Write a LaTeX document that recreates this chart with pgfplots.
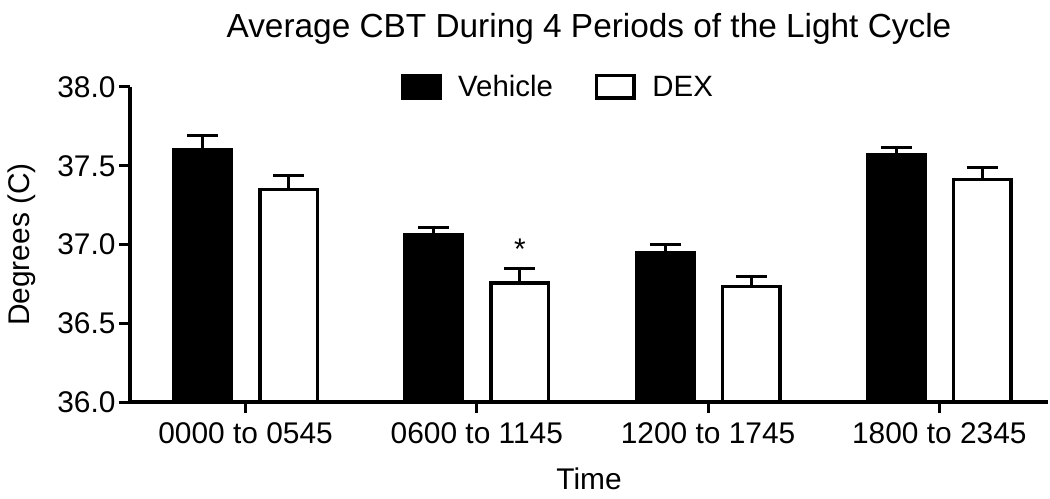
\documentclass[border=0pt]{standalone}
\usepackage{pgfplots}
\pgfplotsset{compat=1.18}
\usepackage{fontspec}
\setmainfont{Liberation Sans}
\newcommand\bigf{\fontsize{30}{33}\selectfont}
\begin{document}
\begin{tikzpicture}
\useasboundingbox (-130bp,-97bp) rectangle (920bp,402bp);
\begin{axis}[
  scale only axis, width=918bp, height=315bp,
  xmin=-0.5, xmax=3.47, ymin=36, ymax=38,
  axis lines*=left,
  axis line style={line width=4bp, -},
  every tick/.style={line width=3bp, black},
  tick align=outside, major tick length=11bp,
  xtick={0,1,2,3},
  xticklabels={0000 to 0545, 0600 to 1145, 1200 to 1745, 1800 to 2345},
  ytick={36,36.5,37,37.5,38},
  yticklabel style={/pgf/number format/.cd, fixed, fixed zerofill, precision=1},
  /pgf/number format/assume math mode=true,
  tick label style={font=\bigf},
  xticklabel style={anchor=base, yshift=-30bp},
  xlabel={Time}, ylabel={Degrees (C)},
  label style={font=\bigf},
  xlabel style={at={(axis description cs:0.5,-0.279)}, anchor=base},
  ylabel style={at={(axis description cs:-0.1176,0.5)}, anchor=center},
  title={Average CBT During 4 Periods of the Light Cycle},
  title style={font=\fontsize{33.5}{36}\selectfont, at={(axis description cs:0.5,1.137)}, anchor=base},
  legend style={draw=none, fill=none, font=\fontsize{29.5}{32}\selectfont, legend columns=2,
    at={(axis description cs:0.466,1)}, anchor=center,
    /tikz/every even column/.append style={column sep=40bp}},
  clip=true,
]
\addplot[ybar, bar width=57.5bp, bar shift=0pt, fill=black, draw=black, line width=3.5bp,
  legend image code/.code={\draw[fill=black, draw=black, line width=3.5bp] (0bp,-11.25bp) rectangle (37.5bp,11.25bp); \path (52bp,0bp);},
  error bars/.cd, y dir=plus, y explicit,
  error bar style={line width=3bp, black}, error mark options={rotate=90, line width=3bp, black, mark size=15.5bp}]
  coordinates {(-0.186,37.600) +- (0,0.090) (0.814,37.065) +- (0,0.045) (1.814,36.948) +- (0,0.052) (2.814,37.573) +- (0,0.044)};
\addlegendentry{Vehicle}
\addplot[ybar, bar width=57.5bp, bar shift=0pt, fill=white, draw=black, line width=3.5bp,
  legend image code/.code={\draw[fill=white, draw=black, line width=3.5bp] (0bp,-11.25bp) rectangle (37.5bp,11.25bp); \path (52bp,0bp);},
  error bars/.cd, y dir=plus, y explicit,
  error bar style={line width=3bp, black}, error mark options={rotate=90, line width=3bp, black, mark size=15.5bp}]
  coordinates {(0.186,37.350) +- (0,0.085) (1.186,36.757) +- (0,0.092) (2.186,36.732) +- (0,0.062) (3.186,37.414) +- (0,0.074)};
\addlegendentry{DEX}
\node[font=\bigf] at (axis cs:1.186,36.97) {*};
\end{axis}
\end{tikzpicture}
\end{document}
